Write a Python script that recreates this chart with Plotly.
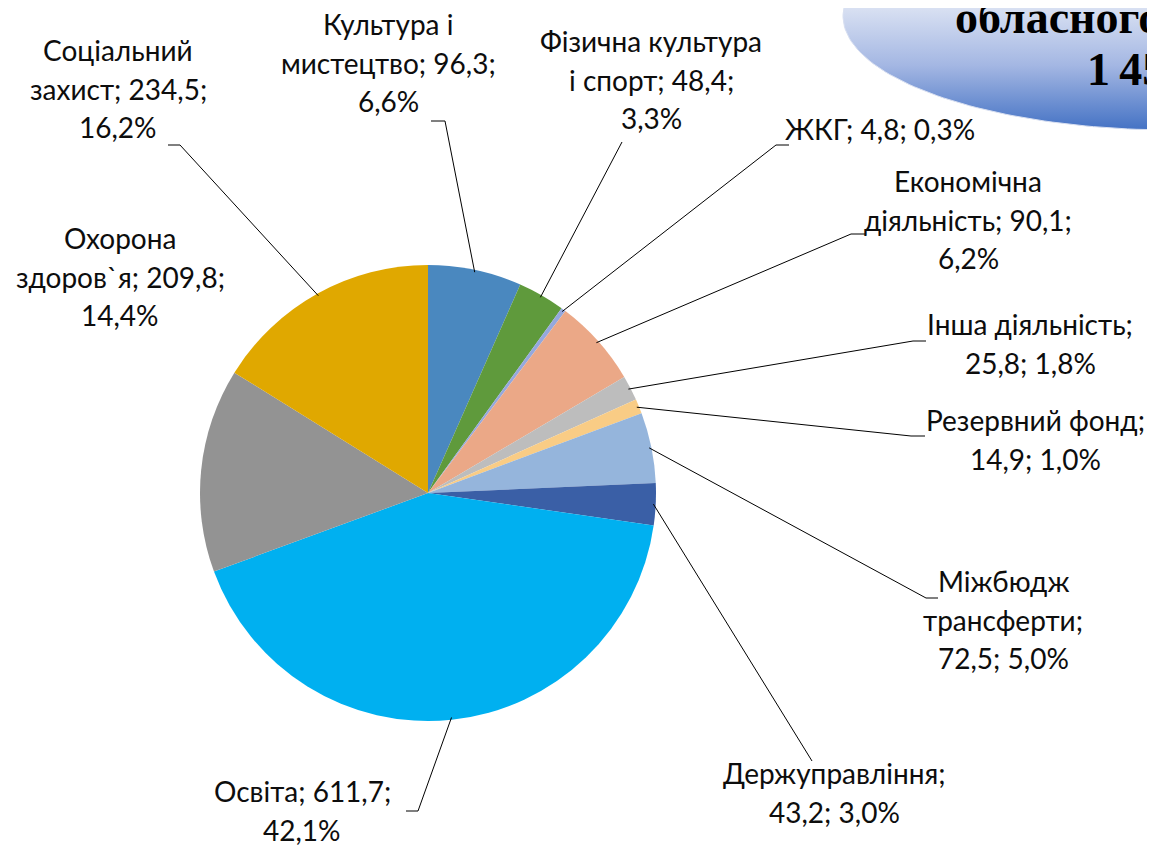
import numpy as np
import plotly.graph_objects as go

W, H = 1155, 846

# ---------------- data ----------------
categories = ["Культура і мистецтво", "Фізична культура і спорт", "ЖКГ",
              "Економічна діяльність", "Інша діяльність", "Резервний фонд",
              "Міжбюдж трансферти", "Держуправління", "Освіта",
              "Охорона здоров`я", "Соціальний захист"]
values = [96.3, 48.4, 4.8, 90.1, 25.8, 14.9, 72.5, 43.2, 611.7, 209.8, 234.5]
percents = [6.6, 3.3, 0.3, 6.2, 1.8, 1.0, 5.0, 3.0, 42.1, 14.4, 16.2]
colors = ["#4a88bf", "#5f9a3c", "#95a8dd", "#eba887", "#bdbdbd", "#f9cc85",
          "#95b5dc", "#3a5fa6", "#00b0f0", "#939393", "#e0a800"]

# label layout: line templates ({v}=value, {p}=percent)
label_lines = [
    ["Культура і", "мистецтво; {v};", "{p}%"],
    ["Фізична культура", "і спорт; {v};", "{p}%"],
    ["ЖКГ; {v}; {p}%"],
    ["Економічна", "діяльність; {v};", "{p}%"],
    ["Інша діяльність;", "{v}; {p}%"],
    ["Резервний фонд;", "{v}; {p}%"],
    ["Міжбюдж", "трансферти;", "{v}; {p}%"],
    ["Держуправління;", "{v}; {p}%"],
    ["Освіта; {v};", "{p}%"],
    ["Охорона", "здоров`я; {v};", "{p}%"],
    ["Соціальний", "захист; {v};", "{p}%"],
]
# label centre x, first line y (pixels, text box centre), line step
label_pos = [(380, 16), (643, 33), (872, 121), (960, 173), (1022, 316),
             (1027, 412), (995, 573), (826, 765), (294, 783), (112, 230),
             (110, 42)]
line_step = 38.5
# leader start points (label side)
leader_start = [
    [(423, 113), (437, 113)],
    [(614, 134)],
    [(781, 137), (768, 137)],
    [(857, 226), (843, 226)],
    [(918, 333), (905, 333)],
    [(917, 428), (903, 428)],
    [(930, 590), (918, 590)],
    [(804, 753)],
    [(398, 803), (410, 803)],
    None,
    [(160, 137), (172, 137)],
]

# pie geometry (pixels)
cx, cy, r = 420, 485, 228
# title ellipse geometry (pixels)
ecx, ecy, erx, ery = 1165, 8, 330, 114


def fmt(x):
    return f"{x:.1f}".replace(".", ",")


fig = go.Figure()

# title ellipse base (paper-referenced so it is not clipped)
fig.add_shape(type="circle", xref="paper", yref="paper", layer="below",
              x0=(ecx - erx) / W, x1=(ecx + erx) / W,
              y0=1 - (ecy + ery) / H, y1=1 - (ecy - ery) / H,
              fillcolor="#dfe5f4", line=dict(width=0))

# title ellipse with vertical gradient
t = np.linspace(0, 2 * np.pi, 240)
fig.add_trace(go.Scatter(
    x=ecx + erx * np.cos(t), y=ecy + ery * np.sin(t), mode="lines",
    line=dict(width=1, color="#d9e0f1"), fill="toself",
    fillgradient=dict(type="vertical", start=-40, stop=122,
                      colorscale=[[0, "#e6ebf6"], [0.25, "#d8e0f2"],
                                  [0.6, "#a4b7e3"], [1, "#4472c4"]]),
    hoverinfo="skip", showlegend=False))

fig.add_trace(go.Pie(
    labels=categories, values=values, sort=False, direction="clockwise",
    rotation=0, marker=dict(colors=colors, line=dict(width=0)),
    textinfo="none", hoverinfo="label+value+percent", showlegend=False,
    domain=dict(x=[(cx - r) / W, (cx + r) / W],
                y=[1 - (cy + r) / H, 1 - (cy - r) / H])))

# leader lines and labels
total = sum(values)
cum = 0.0
for i, v in enumerate(values):
    mid = (cum + v / 2) / total * 2 * np.pi
    cum += v
    ex_, ey_ = cx + r * 0.99 * np.sin(mid), cy - r * 0.99 * np.cos(mid)
    pts = leader_start[i]
    if pts:
        path = "M " + " L ".join(f"{x},{y}" for x, y in pts) + f" L {ex_:.1f},{ey_:.1f}"
        fig.add_shape(type="path", path=path, xref="x", yref="y",
                      line=dict(color="#000000", width=1))
    lx, ly = label_pos[i]
    for k, tmpl in enumerate(label_lines[i]):
        fig.add_annotation(x=lx, y=ly + k * line_step, xref="x", yref="y",
                           text=tmpl.format(v=fmt(v), p=fmt(percents[i])),
                           showarrow=False, xanchor="center", yanchor="middle",
                           font=dict(family="Lato", size=28, color="#0d0d0d"))

# title text (partly outside the visible area as in the reference)
fig.add_annotation(x=945, y=9, xref="x", yref="y", text="<b>обласного</b>",
                   showarrow=False, xanchor="left", yanchor="middle",
                   font=dict(family="Liberation Serif", size=46, color="#000000"))
fig.add_annotation(x=1077, y=61, xref="x", yref="y", text="<b>1\u2009452,0</b>",
                   showarrow=False, xanchor="left", yanchor="middle",
                   font=dict(family="Liberation Serif", size=46, color="#000000"))

fig.update_layout(
    width=W, height=H, margin=dict(l=0, r=0, t=0, b=0),
    paper_bgcolor="white", plot_bgcolor="rgba(0,0,0,0)",
    xaxis=dict(range=[0, W], visible=False, fixedrange=True),
    yaxis=dict(range=[H, 0], visible=False, fixedrange=True),
    showlegend=False,
)

fig.write_html("out.html")
